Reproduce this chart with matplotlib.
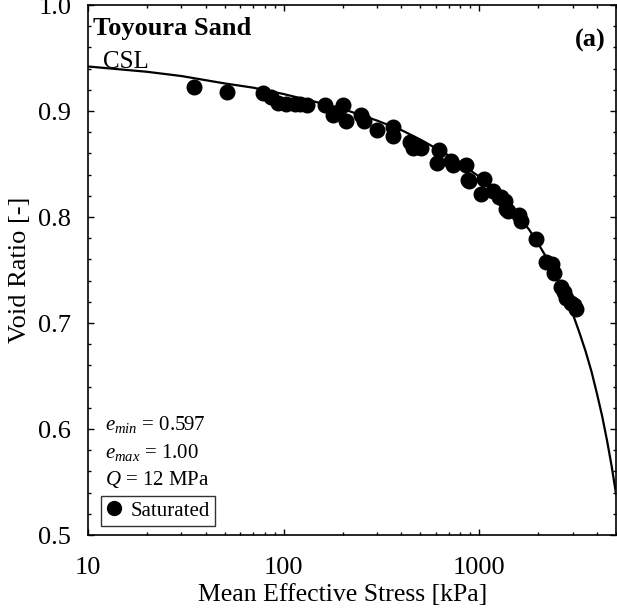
import matplotlib
matplotlib.use("Agg")
import matplotlib.pyplot as plt
from matplotlib.ticker import LogLocator, FixedLocator, NullFormatter, FuncFormatter

# ---- data ----
p_sat = [34.8, 51.4, 78.3, 86.5, 93.5, 103, 114, 121, 131, 162, 178.6, 190, 200,
         209, 249, 259, 301, 364, 361, 440, 457, 494, 502, 605, 625, 717, 731,
         855, 871, 889, 1021, 1060, 1170, 1266, 1290, 1360, 1370, 1395, 1600,
         1633, 1960, 2188, 2366, 2415, 2612, 2716, 2770, 2940, 3110, 3050]
e_sat = [0.923, 0.918, 0.917, 0.913, 0.908, 0.907, 0.907, 0.907, 0.906, 0.906,
         0.896, 0.899, 0.906, 0.891, 0.896, 0.891, 0.882, 0.885, 0.876, 0.871,
         0.865, 0.866, 0.865, 0.851, 0.863, 0.853, 0.849, 0.849, 0.835, 0.834,
         0.822, 0.836, 0.825, 0.819, 0.819, 0.815, 0.808, 0.806, 0.802, 0.796,
         0.779, 0.758, 0.756, 0.747, 0.734, 0.729, 0.724, 0.719, 0.713, 0.717]

p_csl = [10, 20, 30, 50, 70, 100, 150, 200, 300, 400, 500, 700, 1000, 1300,
         1600, 1800, 2000, 2250, 2500, 2750, 3000, 3250, 3500, 3750, 4000, 4250,
         4500, 4750, 5000]
e_csl = [0.942, 0.937, 0.933, 0.926, 0.922, 0.916, 0.908, 0.902, 0.891, 0.882,
         0.873, 0.858, 0.838, 0.819, 0.800, 0.788, 0.775, 0.759, 0.743, 0.726,
         0.709, 0.691, 0.673, 0.654, 0.633, 0.612, 0.589, 0.565, 0.539]

x_ticks = [10, 100, 1000]
y_ticks = [0.5, 0.6, 0.7, 0.8, 0.9, 1.0]

plt.rcParams['font.family'] = ['Liberation Serif', 'DejaVu Serif']
plt.rcParams['mathtext.fontset'] = 'custom'
plt.rcParams['mathtext.rm'] = 'Liberation Serif'
plt.rcParams['mathtext.it'] = 'Liberation Serif:italic'
plt.rcParams['mathtext.bf'] = 'Liberation Serif:bold'

fig = plt.figure(figsize=(6.17, 6.10), dpi=100)
ax = fig.add_axes([88/617, 75/610, 528/617, 530/610])

ax.plot(p_csl, e_csl, color='black', lw=1.6, zorder=2)
ax.plot(p_sat, e_sat, 'o', color='black', ms=10.5, zorder=3, label='Saturated')

ax.set_xscale('log')
ax.set_xlim(10, 5000)
ax.set_ylim(0.5, 1.0)
ax.xaxis.set_major_locator(FixedLocator(x_ticks))
ax.xaxis.set_major_formatter(FuncFormatter(lambda v, pos: f"{v:g}"))
ax.xaxis.set_minor_locator(LogLocator(base=10, subs=range(2, 10)))
ax.xaxis.set_minor_formatter(NullFormatter())
ax.yaxis.set_major_locator(FixedLocator(y_ticks))
ax.yaxis.set_major_formatter(FuncFormatter(lambda v, pos: f"{v:.1f}"))
ax.yaxis.set_minor_locator(FixedLocator([0.5 + 0.02 * i for i in range(26)]))

ax.tick_params(which='both', direction='in', top=True, right=True, labelsize=19,
               width=1.0, colors='black')
ax.tick_params(which='major', length=4)
ax.tick_params(which='minor', length=2.3)
ax.tick_params(axis='x', which='major', pad=16)
ax.tick_params(axis='y', which='major', pad=12)
for s in ax.spines.values():
    s.set_linewidth(1.2)

ax.set_xlabel('Mean Effective Stress [kPa]', fontsize=18.5)
ax.xaxis.set_label_coords(0.483, -0.092)
ax.set_ylabel('Void Ratio [-]', fontsize=19, labelpad=5)

ax.text(0.010, 0.955, 'Toyoura Sand', transform=ax.transAxes, fontsize=19,
        fontweight='bold', va='center', ha='left')
ax.text(0.028, 0.881, 'CSL', transform=ax.transAxes, fontsize=18,
        va='baseline', ha='left')
ax.text(0.981, 0.934, '(a)', transform=ax.transAxes, fontsize=19,
        fontweight='bold', va='center', ha='right')

ax.text(0.032, 0.208, r'$\mathit{e}_{\mathit{min}}$ = 0.597', transform=ax.transAxes,
        fontsize=15, va='center', ha='left')
ax.text(0.032, 0.155, r'$\mathit{e}_{\mathit{max}}$ = 1.00', transform=ax.transAxes,
        fontsize=15, va='center', ha='left')
ax.text(0.032, 0.104, r'$\mathit{Q}$ = 12 MPa', transform=ax.transAxes,
        fontsize=15, va='center', ha='left')

leg = ax.legend(loc='lower left', bbox_to_anchor=(0.024, 0.017), borderaxespad=0,
                fontsize=15, frameon=True, fancybox=False, handlelength=0.8,
                handletextpad=0.4, borderpad=0.25, markerscale=0.95)
leg.get_frame().set_edgecolor('black')
leg.get_frame().set_linewidth(1.0)

fig.savefig('out.png', dpi=100)
